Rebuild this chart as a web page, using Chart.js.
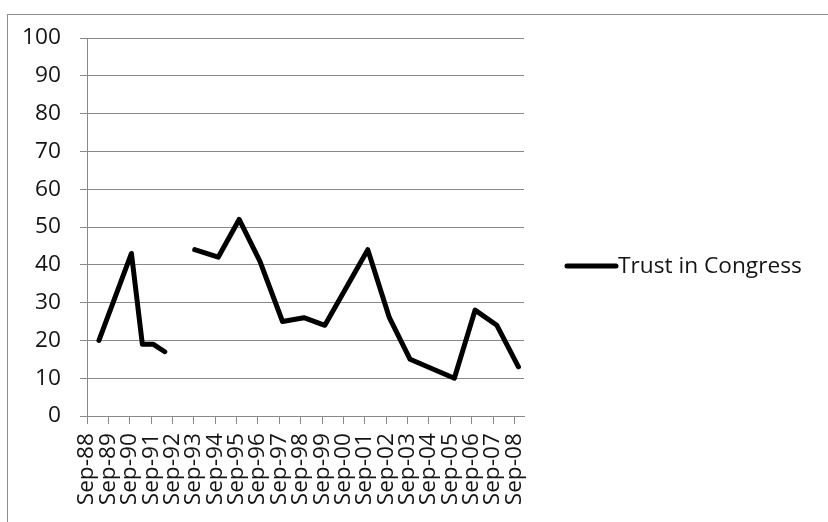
<!DOCTYPE html>
<html>
<head>
<meta charset="utf-8">
<script src="https://cdn.jsdelivr.net/npm/chart.js@4/dist/chart.umd.min.js"></script>
<style>
  html, body { margin: 0; padding: 0; background: #ffffff; }
  #wrap { width: 828px; height: 522px; position: relative; }
</style>
</head>
<body>
<div id="wrap"><canvas id="c" width="828" height="522"></canvas></div>
<script>
// ---- data ----
const seriesName = 'Trust in Congress';
// survey dates as decimal years (null value = gap in the survey series)
const surveyDates = [1989.31, 1990.83, 1991.34, 1991.84, 1992.39, 1993.0,
  1993.79, 1994.89, 1995.87, 1996.84, 1997.90, 1998.90, 1999.88,
  2001.89, 2002.90, 2003.87, 2005.94, 2006.91, 2007.93, 2008.94];
const trustValues = [20, 43, 19, 19, 17, null,
  44, 42, 52, 41, 25, 26, 24,
  44, 26, 15, 10, 28, 24, 13];
// x-axis tick labels (every September)
const tickLabels = ['Sep-88','Sep-89','Sep-90','Sep-91','Sep-92','Sep-93','Sep-94',
  'Sep-95','Sep-96','Sep-97','Sep-98','Sep-99','Sep-00','Sep-01','Sep-02','Sep-03',
  'Sep-04','Sep-05','Sep-06','Sep-07','Sep-08'];
const tickDates = tickLabels.map((_, i) => 1988.75 + i);
const yTicks = [0,10,20,30,40,50,60,70,80,90,100];

const FONT = "'Open Sans', 'Liberation Sans', Arial, sans-serif";
const FS = 22.7;
const GRID = '#898989';
const TEXT = '#141414';

const points = surveyDates.map((d, i) => ({ x: d, y: trustValues[i] }));

const framePlugin = {
  id: 'frame',
  beforeDraw(chart) {
    const ctx = chart.ctx;
    ctx.save();
    ctx.fillStyle = '#ffffff';
    ctx.fillRect(0, 0, chart.width, chart.height);
    ctx.strokeStyle = '#8c8c8c';
    ctx.lineWidth = 1;
    ctx.strokeRect(7.5, 14.5, 1000, 1000);
    ctx.restore();
  }
};

const legendPlugin = {
  id: 'sideLegend',
  afterDraw(chart) {
    const ctx = chart.ctx;
    const ds = chart.data.datasets[0];
    const y = 266;
    ctx.save();
    ctx.strokeStyle = ds.borderColor;
    ctx.lineWidth = ds.borderWidth;
    ctx.lineCap = 'round';
    ctx.beginPath();
    ctx.moveTo(567, y);
    ctx.lineTo(616, y);
    ctx.stroke();
    ctx.fillStyle = TEXT;
    ctx.font = FS + 'px ' + FONT;
    ctx.textBaseline = 'middle';
    ctx.textAlign = 'left';
    ctx.fillText(ds.label, 618, y + 1);
    ctx.restore();
  }
};

new Chart(document.getElementById('c'), {
  type: 'line',
  data: {
    datasets: [{
      label: seriesName,
      data: points,
      borderColor: '#000000',
      backgroundColor: '#000000',
      borderWidth: 5,
      borderCapStyle: 'round',
      borderJoinStyle: 'round',
      pointRadius: 0,
      pointHoverRadius: 0,
      tension: 0,
      spanGaps: false,
      fill: false
    }]
  },
  options: {
    responsive: false,
    animation: false,
    events: [],
    layout: { padding: { left: 0, top: 38, right: 304, bottom: 0 } },
    plugins: { legend: { display: false }, tooltip: { enabled: false } },
    scales: {
      x: {
        type: 'linear',
        min: tickDates[0],
        max: 2009.2,
        afterBuildTicks(scale) { scale.ticks = tickDates.map(v => ({ value: v })); },
        afterFit(scale) { scale.height = 106; scale.paddingLeft = 0; scale.paddingRight = 0; },
        grid: { drawOnChartArea: false, drawTicks: true, tickLength: 8, color: GRID, lineWidth: 1 },
        border: { display: true, color: GRID, width: 1 },
        ticks: {
          autoSkip: false,
          minRotation: 90,
          maxRotation: 90,
          padding: 9,
          color: TEXT,
          font: { family: FONT, size: FS },
          callback(value) {
            const i = tickDates.findIndex(d => Math.abs(d - value) < 1e-6);
            return i >= 0 ? tickLabels[i] : '';
          }
        }
      },
      y: {
        min: 0,
        max: 100,
        afterBuildTicks(scale) { scale.ticks = yTicks.map(v => ({ value: v })); },
        afterFit(scale) { scale.width = 87; },
        grid: { drawOnChartArea: true, drawTicks: true, tickLength: 7, color: GRID, lineWidth: 1 },
        border: { display: true, color: GRID, width: 1 },
        ticks: {
          padding: 19,
          color: TEXT,
          font: { family: FONT, size: FS }
        }
      }
    }
  },
  plugins: [framePlugin, legendPlugin]
});
</script>
</body>
</html>
